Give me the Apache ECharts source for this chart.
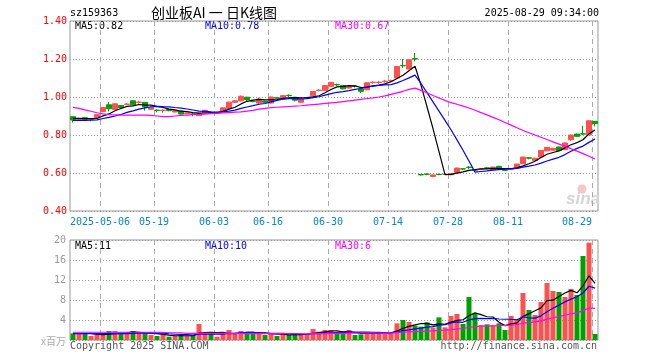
<!DOCTYPE html>
<html><head><meta charset="utf-8">
<script src="https://cdn.jsdelivr.net/npm/echarts@6/dist/echarts.min.js"></script>
<style>html,body{margin:0;padding:0;background:#fff}#c{width:660px;height:360px}</style>
</head><body><div id="c"></div>
<script>
const dates = ['04-24','04-25','04-28','04-29','04-30',
'05-06','05-07','05-08','05-09','05-12','05-13','05-14','05-15','05-16','05-19','05-20','05-21','05-22','05-23','05-26','05-27','05-28','05-29','05-30',
'06-03','06-04','06-05','06-06','06-09','06-10','06-11','06-12','06-13','06-16','06-17','06-18','06-19','06-20','06-23','06-24','06-25','06-26','06-27','06-30',
'07-01','07-02','07-03','07-04','07-07','07-08','07-09','07-10','07-11','07-14','07-15','07-16','07-17','07-18','07-21','07-22','07-23','07-24','07-25','07-28','07-29','07-30','07-31',
'08-01','08-04','08-05','08-06','08-07','08-08','08-11','08-12','08-13','08-14','08-15','08-18','08-19','08-20','08-21','08-22','08-25','08-26','08-27','08-28','08-29'];

const opens = [0.896,0.883,0.891,0.881,0.894,0.924,0.959,0.934,0.955,0.961,
0.980,0.971,0.972,0.935,0.931,0.929,0.935,0.921,0.926,0.912,
0.911,0.902,0.918,0.919,0.916,0.923,0.940,0.972,0.980,0.999,
0.978,0.968,0.979,0.968,0.996,0.989,1.009,0.995,0.972,0.994,
1.006,1.034,1.035,1.056,1.066,1.060,1.047,1.057,1.042,1.038,
1.076,1.076,1.081,1.085,1.100,1.166,1.147,1.202,0.592,0.594,
0.582,0.593,0.593,0.591,0.603,0.622,0.631,0.616,0.619,0.627,
0.617,0.635,0.616,0.619,0.626,0.649,0.680,0.666,0.684,0.717,
0.720,0.737,0.723,0.775,0.805,0.806,0.800,0.872];
const closes = [0.879,0.885,0.882,0.883,0.907,0.945,0.938,0.964,0.944,0.963,
0.959,0.973,0.949,0.944,0.929,0.931,0.928,0.928,0.910,0.916,
0.909,0.914,0.930,0.917,0.918,0.943,0.973,0.980,1.004,0.987,
0.976,0.989,0.972,1.000,0.994,1.007,1.007,0.983,0.989,0.996,
1.029,1.036,1.060,1.077,1.064,1.043,1.056,1.055,1.030,1.075,
1.078,1.078,1.083,1.087,1.161,1.164,1.196,1.200,0.590,0.593,
0.590,0.592,0.594,0.597,0.626,0.621,0.629,0.615,0.621,0.625,
0.631,0.622,0.614,0.621,0.647,0.684,0.678,0.678,0.719,0.735,
0.730,0.719,0.758,0.800,0.793,0.805,0.875,0.860];
const lows = [0.866,0.878,0.878,0.872,0.892,0.920,0.924,0.932,0.942,0.958,
0.955,0.965,0.928,0.932,0.920,0.917,0.925,0.919,0.908,0.909,
0.898,0.900,0.915,0.912,0.912,0.920,0.938,0.968,0.977,0.978,
0.972,0.962,0.970,0.965,0.990,0.986,0.998,0.977,0.968,0.990,
1.003,1.030,1.033,1.054,1.058,1.040,1.044,1.050,1.020,1.035,
1.070,1.070,1.075,1.078,1.098,1.153,1.145,1.187,0.586,0.588,
0.577,0.588,0.590,0.588,0.601,0.615,0.620,0.610,0.615,0.620,
0.615,0.619,0.611,0.615,0.624,0.647,0.672,0.664,0.682,0.715,
0.718,0.716,0.720,0.768,0.790,0.800,0.798,0.845];
const highs = [0.898,0.890,0.894,0.886,0.909,0.946,0.974,0.966,0.957,0.968,
0.982,0.980,0.974,0.946,0.935,0.936,0.937,0.930,0.929,0.918,
0.916,0.916,0.932,0.923,0.922,0.946,0.976,0.984,1.008,1.001,
0.984,0.997,0.982,1.002,1.000,1.010,1.014,0.997,0.991,0.998,
1.030,1.042,1.062,1.079,1.070,1.062,1.058,1.062,1.044,1.077,
1.084,1.085,1.090,1.092,1.163,1.200,1.198,1.232,0.595,0.598,
0.592,0.597,0.596,0.599,0.628,0.625,0.636,0.620,0.624,0.631,
0.633,0.638,0.620,0.625,0.648,0.686,0.684,0.680,0.721,0.737,
0.732,0.739,0.760,0.803,0.807,0.849,0.877,0.874];
// volume, millions
const volumes = [1.33,1.33,1.2,0.8,1.0,1.0,1.8,1.8,1.33,1.33,
1.8,1.47,1.33,1.0,0.8,1.0,0.67,0.8,1.0,0.8,
1.0,3.2,1.33,1.2,0.67,1.2,2.0,1.2,1.8,1.47,
1.2,1.6,1.0,1.2,0.8,1.2,1.0,1.2,1.2,1.13,
2.2,1.67,2.0,2.0,1.2,1.33,2.0,1.0,1.13,1.47,
1.47,1.6,1.33,1.33,3.33,4.0,3.6,2.87,2.67,3.53,
2.47,4.53,2.53,4.8,5.2,3.2,8.6,5.33,3.0,3.13,
2.93,3.33,2.0,4.8,4.13,9.4,6.0,5.0,7.6,11.4,
9.8,9.6,8.6,10.2,9.0,16.8,19.47,1.2];
// MA30 of price
const ma30Price = [0.945,0.94,0.932,0.925,0.917,0.911,0.907,0.906,0.905,0.905,
0.905,0.905,0.905,0.903,0.9,0.897,0.897,0.9,0.903,0.905,
0.907,0.908,0.91,0.912,0.914,0.916,0.918,0.92,0.922,0.926,
0.93,0.936,0.94,0.944,0.946,0.948,0.95,0.952,0.954,0.957,
0.96,0.963,0.966,0.969,0.972,0.976,0.98,0.984,0.988,0.992,
0.995,1.0,1.006,1.014,1.022,1.03,1.04,1.047,1.035,1.022,
1.008,0.995,0.982,0.97,0.962,0.952,0.942,0.93,0.918,0.906,
0.893,0.88,0.866,0.852,0.838,0.824,0.812,0.8,0.788,0.776,
0.764,0.752,0.74,0.728,0.715,0.702,0.688,0.674];
// leading moving-average values (history before the first visible day)
const ma5Lead = [0.888,0.887,0.886,0.886];
const ma10Lead = [0.877,0.877,0.877,0.878,0.88,0.887,0.893,0.9,0.908];
const vma5Lead = [1.3,1.3,1.3,1.3];
const vma10Lead = [1.28,1.28,1.28,1.28,1.28,1.28,1.28,1.28,1.28];
const vma30Lead = [1.55,1.55,1.55,1.55,1.55,1.55,1.55,1.55,1.55,1.55,1.55,1.55,1.55,1.55,1.55,1.55,
1.45,1.45,1.45,1.33,1.33,1.33,1.33,1.33,1.33,1.33,1.33,1.33,1.33];

const tickIdx = [5,14,24,33,43,53,63,73,87];
const tickText = ['2025-05-06','05-19','06-03','06-16','06-30','07-14','07-28','08-11','08-29'];
const priceLegend = ['MA5:0.82','MA10:0.78','MA30:0.67'];
const volLegend = ['MA5:11','MA10:10','MA30:6'];

function movAvg(vals, n, lead) {
  return vals.map((v, i) => {
    if (i < n - 1) return lead[i];
    let s = 0; for (let k = i - n + 1; k <= i; k++) s += vals[k];
    return +(s / n).toFixed(4);
  });
}
const ma5 = movAvg(closes, 5, ma5Lead);
const ma10 = movAvg(closes, 10, ma10Lead);
const vma5 = movAvg(volumes, 5, vma5Lead);
const vma10 = movAvg(volumes, 10, vma10Lead);
const vma30 = movAvg(volumes, 30, vma30Lead);

const kData = opens.map((o, i) => [o, closes[i], lows[i], highs[i]]);
const UP = '#ff5050', DOWN = '#00a000';
const MONO = '"DejaVu Sans Mono", "Liberation Mono", monospace';
const tickCats = []; for (let i = 0; i <= dates.length; i++) tickCats.push('c' + i);
const isTick = (i) => tickIdx.indexOf(i) >= 0;
const labelFor = (v) => {
  const i = +String(v).slice(1); const k = tickIdx.indexOf(i);
  if (k < 0) return '';
  return k === tickIdx.length - 1 ? tickText[k] + '     ' : tickText[k];
};
const splitV = { show: true, interval: (i) => isTick(i), lineStyle: { color: '#aaaaaa', type: [5, 4], width: 1 } };

const chart = echarts.init(document.getElementById('c'), null, { renderer: 'canvas' });
const mkText = (text, x, y, fill, size, align, fam, extra) => Object.assign({
  type: 'text', silent: true,
  style: { text: text, x: x, y: y, fill: fill, font: size + 'px ' + (fam || MONO), textAlign: align || 'left', textVerticalAlign: 'middle' }
}, extra || {});

chart.setOption({
  animation: false,
  backgroundColor: '#ffffff',
  grid: [
    { left: 70, top: 21, width: 528, height: 190, show: true, borderColor: '#999', borderWidth: 1 },
    { left: 70, top: 240, width: 528, height: 100, show: true, borderColor: '#999', borderWidth: 1 }
  ],
  xAxis: [
    { type: 'category', gridIndex: 0, data: dates, boundaryGap: true, show: false },
    { type: 'category', gridIndex: 0, data: tickCats, boundaryGap: false, position: 'bottom',
      axisLine: { show: false }, axisTick: { show: false },
      axisLabel: { interval: (i) => isTick(i), formatter: labelFor, color: '#0a84d0', fontFamily: MONO, fontSize: 10, margin: 6, hideOverlap: false },
      splitLine: splitV },
    { type: 'category', gridIndex: 1, data: dates, boundaryGap: true, show: false },
    { type: 'category', gridIndex: 1, data: tickCats, boundaryGap: false,
      axisLine: { show: false }, axisTick: { show: false }, axisLabel: { show: false },
      splitLine: splitV }
  ],
  yAxis: [
    { type: 'value', gridIndex: 0, min: 0.4, max: 1.4, interval: 0.2,
      axisLine: { show: false }, axisTick: { show: false },
      axisLabel: { color: '#ff0000', fontFamily: MONO, fontSize: 10, margin: 3, formatter: (v) => v.toFixed(2) },
      splitLine: { lineStyle: { color: '#999', type: [1, 2] } } },
    { type: 'value', gridIndex: 1, min: 0, max: 20, interval: 4,
      axisLine: { show: false }, axisTick: { show: false },
      axisLabel: { color: '#999', fontFamily: MONO, fontSize: 10, margin: 4, formatter: (v) => v === 0 ? '' : String(v) },
      splitLine: { lineStyle: { color: '#999', type: [1, 2] } } }
  ],
  series: [
    { type: 'candlestick', xAxisIndex: 0, yAxisIndex: 0, data: kData, barWidth: 5,
      itemStyle: { color: UP, color0: DOWN, borderColor: UP, borderColor0: DOWN, borderWidth: 1 } },
    { type: 'line', xAxisIndex: 0, yAxisIndex: 0, data: ma5, symbol: 'none', lineStyle: { color: '#000', width: 1.2 }, silent: true },
    { type: 'line', xAxisIndex: 0, yAxisIndex: 0, data: ma10, symbol: 'none', lineStyle: { color: '#0000ff', width: 1.2 }, silent: true },
    { type: 'line', xAxisIndex: 0, yAxisIndex: 0, data: ma30Price, symbol: 'none', lineStyle: { color: '#ff00ff', width: 1.2 }, silent: true },
    { type: 'bar', xAxisIndex: 2, yAxisIndex: 1, data: volumes, barWidth: 5,
      itemStyle: { color: (p) => closes[p.dataIndex] >= opens[p.dataIndex] ? UP : DOWN } },
    { type: 'line', xAxisIndex: 2, yAxisIndex: 1, data: vma5, symbol: 'none', lineStyle: { color: '#000', width: 1.2 }, silent: true },
    { type: 'line', xAxisIndex: 2, yAxisIndex: 1, data: vma10, symbol: 'none', lineStyle: { color: '#0000ff', width: 1.2 }, silent: true },
    { type: 'line', xAxisIndex: 2, yAxisIndex: 1, data: vma30, symbol: 'none', lineStyle: { color: '#ff00ff', width: 1.2 }, silent: true }
  ],
  graphic: [
    mkText('sz159363', 70, 13, '#000', 10),
    mkText('创业板AI 一 日K线图', 151, 12.5, '#000', 14, 'left', '"Noto Sans CJK SC", sans-serif'),
    mkText('2025-08-29 09:34:00', 599, 13, '#000', 10, 'right'),
    mkText(priceLegend[0], 75, 26.5, '#000', 10),
    mkText(priceLegend[1], 205, 26.5, '#0000ff', 10),
    mkText(priceLegend[2], 335, 26.5, '#ff00ff', 10),
    mkText(volLegend[0], 75, 246, '#000', 10),
    mkText(volLegend[1], 205, 246, '#0000ff', 10),
    mkText(volLegend[2], 335, 246, '#ff00ff', 10),
    mkText('x百万', 66, 341, '#aaa', 10, 'right', '"Noto Sans CJK SC", sans-serif'),
    mkText('Copyright 2025 SINA.COM', 70, 346, '#555', 10),
    mkText('http://finance.sina.com.cn', 597, 346, '#555', 10, 'right'),
    { type: 'circle', silent: true, shape: { cx: 582, cy: 189, r: 4.5 }, style: { fill: '#f2c8c8' } },
    { type: 'text', silent: true, style: { text: 'sina', x: 566, y: 199, fill: '#d4d4d4', font: 'italic bold 17px sans-serif', textAlign: 'left', textVerticalAlign: 'middle' } }
  ]
});
</script></body></html>
